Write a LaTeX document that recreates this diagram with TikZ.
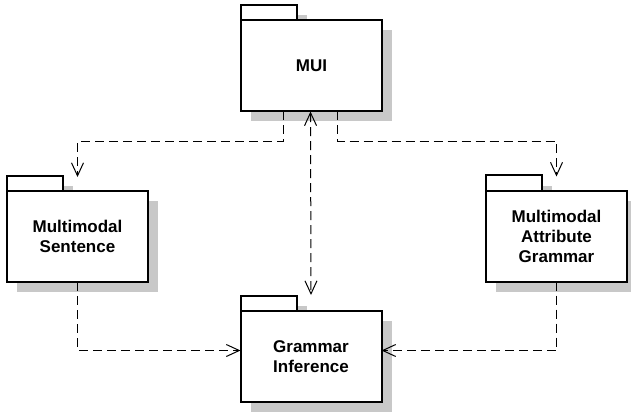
\documentclass[tikz,border=0pt]{standalone}
\usepackage{fontspec}
\setmainfont{Liberation Sans}
\usetikzlibrary{arrows.meta,shadows,backgrounds,calc}
\definecolor{shadowgray}{RGB}{200,200,200}
\tikzset{
  pkgshadow/.style={general shadow={fill=shadowgray,draw=none,shadow xshift=10pt,shadow yshift=-10pt}},
  pkg/.style={draw=black,fill=white,line width=2pt,rectangle,inner sep=0pt,outer sep=0pt,
    minimum width=141pt,minimum height=91pt,align=center,pkgshadow,
    font=\bfseries\fontsize{17}{20}\selectfont},
  pkgtab/.style={draw=black,fill=white,line width=2pt,rectangle,inner sep=0pt,outer sep=0pt,
    minimum width=56pt,minimum height=15pt,anchor=south west,pkgshadow},
  barb/.style={Straight Barb[length=13pt,width=12pt,line width=1pt]},
  dep/.style={line width=1pt,dash pattern=on 9pt off 5pt,-{Straight Barb[length=13pt,width=12pt,line width=1pt]}},
  depboth/.style={dep,{Straight Barb[length=13pt,width=12pt,line width=1pt]}-{Straight Barb[length=13pt,width=12pt,line width=1pt]}}
}
\begin{document}
\begin{tikzpicture}[x=1pt,y=-1pt]
  \useasboundingbox (0,0) rectangle (631,414);
  \clip (0,0) rectangle (631,414);

  % package bodies
  \node[pkg] (mui) at (311.5,66) {MUI};
  \node[pkg] (ms)  at (77.5,236.5) {Multimodal\\Sentence};
  \node[pkg] (gi)  at (311,356.5) {Grammar\\Inference};
  \node[pkg] (mag) at (556.5,236) {Multimodal\\Attribute\\Grammar};

  % package tabs, behind the bodies
  \begin{scope}[on background layer]
    \fill[white] (0,0) rectangle (631,414);
    \node[pkgtab] (muitab) at (mui.north west) {};
    \node[pkgtab] (mstab)  at (ms.north west) {};
    \node[pkgtab] (gitab)  at (gi.north west) {};
    \node[pkgtab] (magtab) at (mag.north west) {};
  \end{scope}

  % dependencies
  \coordinate (msin)  at ($(ms.north)+(0,-14)$);
  \coordinate (magin) at ($(mag.north)+(0,-14)$);
  \coordinate (giin)  at ($(gi.north)+(0,-16)$);
  \draw[dep] ($(mui.south)+(-28,0)$) -- ++(0,30) -| (msin);
  \draw[dep] ($(mui.south)+(26,0)$) -- ++(0,30) -| (magin);
  \draw[depboth] ($(mui.south)+(-1,0)$) -- (giin);
  \draw[dep] (ms.south) |- ($(gi.west)+(0,-6)$);
  \draw[dep] (mag.south) |- ($(gi.east)+(0,-6)$);
\end{tikzpicture}
\end{document}
